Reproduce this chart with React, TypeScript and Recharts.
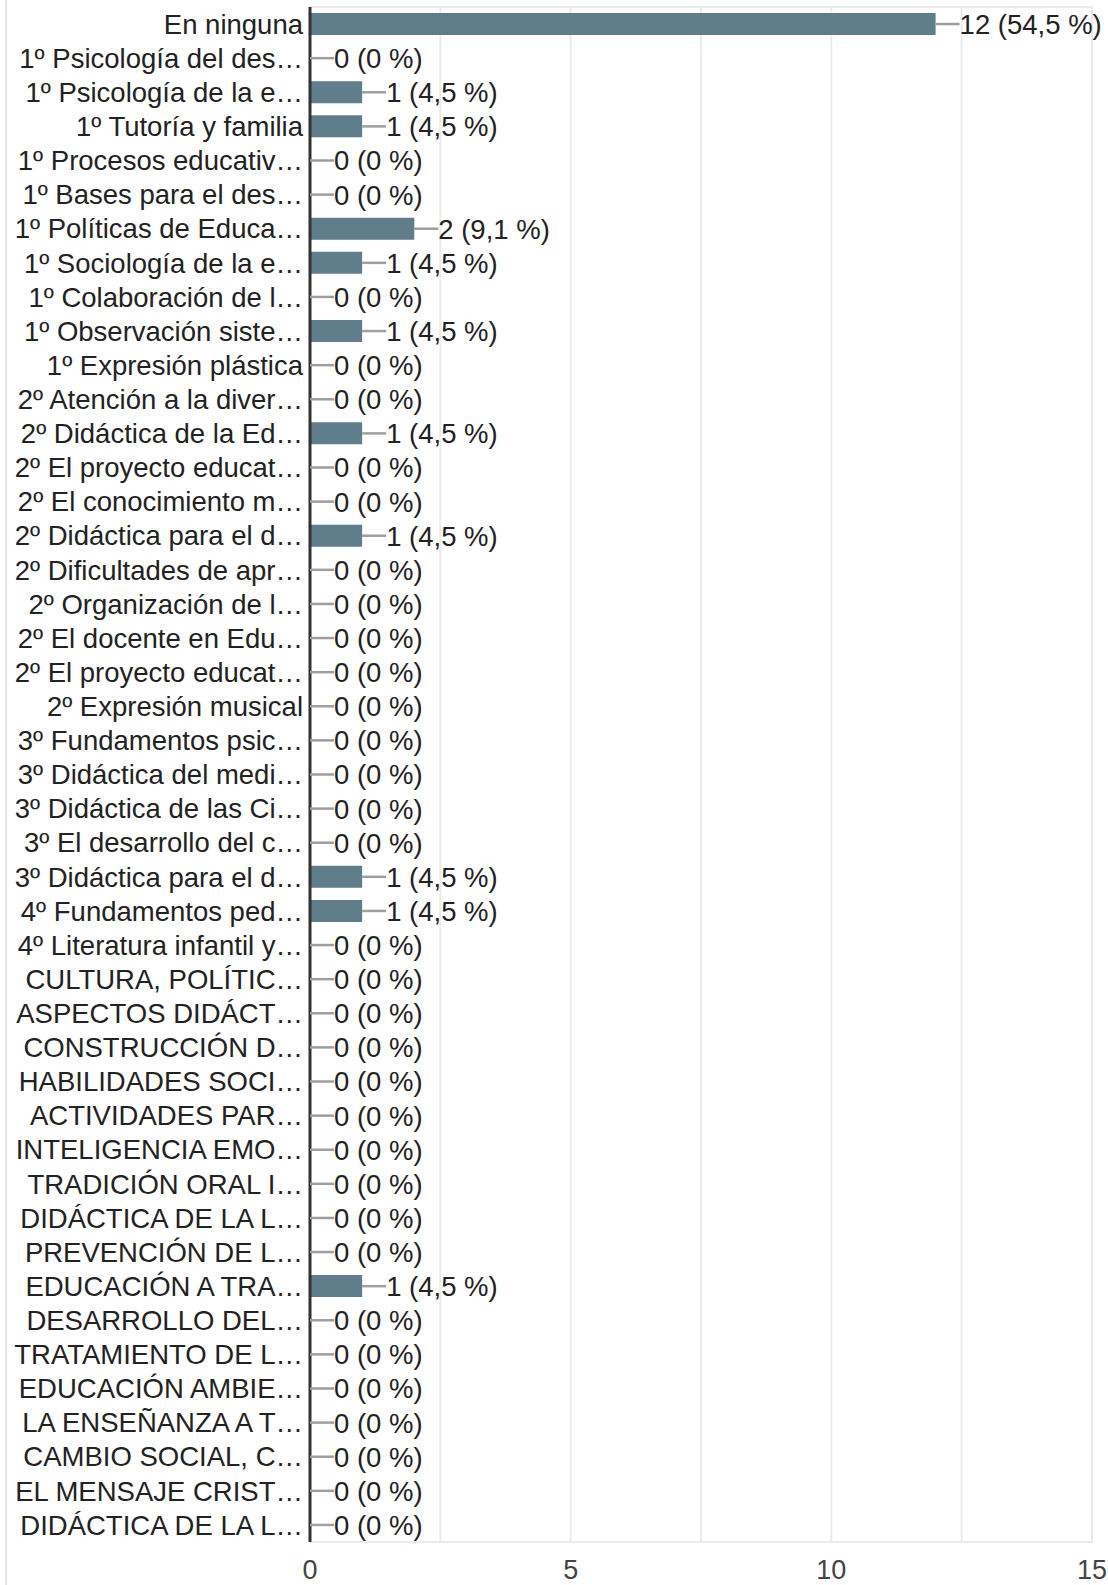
import React from 'react';
import { ComposedChart, Bar, Line, XAxis, YAxis, CartesianGrid, ReferenceArea } from 'recharts';

const courses = [
  'En ninguna',
  '1º Psicología del des…',
  '1º Psicología de la e…',
  '1º Tutoría y familia',
  '1º Procesos educativ…',
  '1º Bases para el des…',
  '1º Políticas de Educa…',
  '1º Sociología de la e…',
  '1º Colaboración de l…',
  '1º Observación siste…',
  '1º Expresión plástica',
  '2º Atención a la diver…',
  '2º Didáctica de la Ed…',
  '2º El proyecto educat…',
  '2º El conocimiento m…',
  '2º Didáctica para el d…',
  '2º Dificultades de apr…',
  '2º Organización de l…',
  '2º El docente en Edu…',
  '2º El proyecto educat…',
  '2º Expresión musical',
  '3º Fundamentos psic…',
  '3º Didáctica del medi…',
  '3º Didáctica de las Ci…',
  '3º El desarrollo del c…',
  '3º Didáctica para el d…',
  '4º Fundamentos ped…',
  '4º Literatura infantil y…',
  'CULTURA, POLÍTIC…',
  'ASPECTOS DIDÁCT…',
  'CONSTRUCCIÓN D…',
  'HABILIDADES SOCI…',
  'ACTIVIDADES PAR…',
  'INTELIGENCIA EMO…',
  'TRADICIÓN ORAL I…',
  'DIDÁCTICA DE LA L…',
  'PREVENCIÓN DE L…',
  'EDUCACIÓN A TRA…',
  'DESARROLLO DEL…',
  'TRATAMIENTO DE L…',
  'EDUCACIÓN AMBIE…',
  'LA ENSEÑANZA A T…',
  'CAMBIO SOCIAL, C…',
  'EL MENSAJE CRIST…',
  'DIDÁCTICA DE LA L…',
];

const counts = [
  12, 0, 1, 1, 0, 0, 2, 1, 0, 1, 0,
  0, 1, 0, 0, 1, 0, 0, 0, 0, 0,
  0, 0, 0, 0, 1, 1, 0,
  0, 0, 0, 0, 0, 0, 0, 0, 0, 1, 0, 0, 0, 0, 0, 0, 0,
];

const percents = [
  '54,5', '0', '4,5', '4,5', '0', '0', '9,1', '4,5', '0', '4,5', '0',
  '0', '4,5', '0', '0', '4,5', '0', '0', '0', '0', '0',
  '0', '0', '0', '0', '4,5', '4,5', '0',
  '0', '0', '0', '0', '0', '0', '0', '0', '0', '4,5', '0', '0', '0', '0', '0', '0', '0',
];

const xTicks = [0, 2.5, 5, 7.5, 10, 12.5, 15];

const data = courses.map((c, i) => ({ id: i, name: c, value: counts[i], pct: percents[i] }));

const FONT = '"Liberation Sans", Arial, sans-serif';

// grey leader line + "n (p %)" at the end of every bar, zeros included
const ValueDot = (props: any) => {
  const { cx, cy, payload, index } = props;
  if (cx == null || cy == null) return null;
  return (
    <g key={`lbl-${index}`}>
      <line x1={cx} y1={cy} x2={cx + 24} y2={cy} stroke="#9e9e9e" strokeWidth={2.5} />
      <text x={cx + 24} y={cy} dy="0.36em" fontSize={27.5} fontFamily={FONT} fill="#222222">
        {`${payload.value} (${payload.pct} %)`}
      </text>
    </g>
  );
};

export default function App() {
  return (
    <div style={{ position: 'relative', width: 1108, height: 1585, background: '#fff' }}>
      <style>{'body{margin:0}'}</style>
      <div style={{ position: 'absolute', left: 5, top: 0, width: 2, height: 1585, background: '#e3e3e8' }} />
      <ComposedChart
        width={1108}
        height={1585}
        data={data}
        layout="vertical"
        margin={{ top: 7, right: 16, bottom: 0, left: 0 }}
      >
        <CartesianGrid horizontal={false} stroke="#ebebeb" strokeWidth={2} />
        <ReferenceArea x1={0} x2={15} fill="none" stroke="#ebebeb" strokeWidth={2} ifOverflow="visible" />
        <XAxis
          type="number"
          domain={[0, 15]}
          ticks={xTicks}
          interval={0}
          height={43}
          axisLine={{ stroke: '#ebebeb', strokeWidth: 2 }}
          tickLine={false}
          tickSize={0}
          tickMargin={18}
          tickFormatter={(v: number) => (v % 5 === 0 ? String(v) : '')}
          tick={{ fill: '#444444', fontSize: 27, fontFamily: FONT }}
        />
        <YAxis
          type="category"
          dataKey="id"
          width={310}
          interval={0}
          axisLine={{ stroke: '#333333', strokeWidth: 3 }}
          tickLine={false}
          tickSize={0}
          tickMargin={7}
          tickFormatter={(i: number) => courses[i]}
          tick={{ fill: '#222222', fontSize: 27.5, fontFamily: FONT }}
        />
        <Bar dataKey="value" fill="#607d8b" barSize={22} isAnimationActive={false} />
        <Line
          dataKey="value"
          stroke="none"
          dot={<ValueDot />}
          activeDot={false}
          isAnimationActive={false}
        />
      </ComposedChart>
    </div>
  );
}
